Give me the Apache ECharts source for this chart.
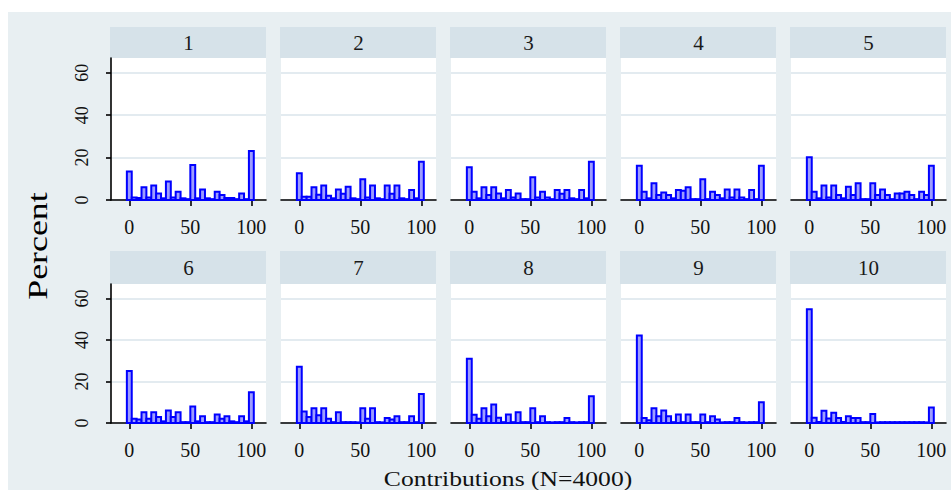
<!DOCTYPE html>
<html>
<head>
<meta charset="utf-8">
<script src="https://cdn.jsdelivr.net/npm/echarts@6/dist/echarts.min.js"></script>
<style>
  html, body { margin: 0; padding: 0; background: #ffffff; }
  #chart { width: 951px; height: 490px; }
</style>
</head>
<body>
<div id="chart"></div>
<script>
// Histogram bins: width 4, centred on 0, 4, 8, ..., 100
const binCenters = [0,4,8,12,16,20,24,28,32,36,40,44,48,52,56,60,64,68,72,76,80,84,88,92,96,100];
const binWidth = 4;

// Percent of contributions in each bin, one array per period
const period1  = [13.4,1.2,1.0,6.0,1.2,6.9,3.1,0.8,8.7,1.2,3.9,0.8,0.4,16.5,0.8,5.0,0.8,0.4,3.9,2.4,1.0,1.0,0.4,3.1,0.4,23.1];
const period2  = [12.6,1.5,1.5,6.0,2.5,6.8,2.0,0.8,5.0,3.0,6.3,0.8,0.4,9.8,1.2,6.8,0.8,0.4,6.8,3.0,6.9,0.8,0.4,4.7,0.8,18.1];
const period3  = [15.4,3.9,0.8,6.0,2.4,6.0,3.1,0.8,4.7,1.2,3.1,0.4,0.4,10.7,1.2,3.9,1.2,0.4,4.7,3.0,4.7,0.8,0.4,4.7,0.8,18.1];
const period4  = [16.2,3.9,0.8,7.9,2.4,3.5,2.4,0.8,4.7,4.4,6.0,0.4,0.4,9.8,0.4,3.9,2.4,0.8,5.0,1.2,5.0,1.2,0.4,4.7,0.4,16.2];
const period5  = [20.2,3.9,0.8,6.8,1.2,6.8,2.4,0.8,6.3,2.4,7.9,0.4,0.4,7.9,2.4,5.0,2.4,0.4,3.1,3.1,3.9,2.4,0.4,3.9,2.4,16.2];
const period6  = [25.1,2.0,1.7,5.2,2.0,5.2,2.9,0.8,6.0,2.9,5.2,0.4,0.4,7.9,0.8,3.3,0.4,0.4,4.1,2.0,3.3,0.8,0.4,3.3,0.8,14.8];
const period7  = [27.1,5.6,2.9,7.1,3.7,7.1,2.0,0.4,5.2,0.4,0.4,0.4,0.3,7.1,2.0,7.1,0.4,0.3,2.4,1.7,3.3,0.4,0.4,3.3,0.4,14.0];
const period8  = [31.0,4.0,2.0,7.1,3.3,8.9,2.5,0.4,4.1,0.4,5.2,0.4,0.4,7.1,0.4,3.3,0.4,0.3,0.4,0.4,2.4,0.4,0.3,0.4,0.4,12.9];
const period9  = [42.2,2.4,1.3,7.1,3.3,6.0,3.3,0.4,4.1,0.4,4.1,0.4,0.4,4.1,0.4,3.3,1.7,0.3,0.4,0.4,2.4,0.4,0.3,0.4,0.4,10.0];
const period10 = [54.8,2.5,0.5,5.9,2.2,5.0,2.4,0.5,3.3,2.4,2.4,0.4,0.4,4.3,0.3,0.4,0.4,0.4,0.4,0.4,0.4,0.4,0.4,0.4,0.3,7.5];
const periods = [period1, period2, period3, period4, period5, period6, period7, period8, period9, period10];
const periodLabels = ['1','2','3','4','5','6','7','8','9','10'];

// Axis ticks
const xTickValues = [0, 50, 100];
const yTickValues = [0, 20, 40, 60];
const xLabelText = ['0', '50', '100'];

const xTitle = 'Contributions (N=4000)';
const yTitle = 'Percent';

const serif = '"Liberation Serif", "DejaVu Serif", "Times New Roman", serif';
const regionColor = '#e8eff2';
const stripColor = '#d6e2e9';
const gridColor = '#e3ebf0';
const barStroke = '#0000ff';
const barFill = '#9d9dff';

// Panel layout (2 rows x 5 columns)
const colLeft0 = 111, colPitch = 170, plotWidth = 155;
const rows = [
  { stripTop: 27, stripH: 31, plotTop: 58, plotH: 142 },
  { stripTop: 251, stripH: 33, plotTop: 284, plotH: 139 }
];

const chart = echarts.init(document.getElementById('chart'), null, { renderer: 'svg' });

const grids = [], xAxes = [], yAxes = [], series = [];
const graphics = [
  // white margin around the graph region
  { type: 'rect', shape: { x: 0, y: 0, width: 951, height: 12 }, style: { fill: '#ffffff' }, silent: true },
  { type: 'rect', shape: { x: 0, y: 0, width: 8, height: 490 }, style: { fill: '#ffffff' }, silent: true }
];

periods.forEach((vals, i) => {
  const r = rows[Math.floor(i / 5)];
  const c = i % 5;
  const left = colLeft0 + colPitch * c;
  const firstCol = c === 0;

  grids.push({
    left: left, top: r.plotTop, width: plotWidth, height: r.plotH,
    show: true, backgroundColor: '#ffffff', borderWidth: 0, containLabel: false
  });

  xAxes.push({
    type: 'value', gridIndex: i, min: -15, max: 112,
    axisLine: { show: true, onZero: false, lineStyle: { color: '#000000', width: 1.6 } },
    axisTick: { show: true, customValues: xTickValues, length: 6, lineStyle: { color: '#000000', width: 1.6 } },
    axisLabel: {
      show: true, customValues: xTickValues, margin: 17,
      fontFamily: serif, fontSize: 20, color: '#111111',
      formatter: v => xLabelText[xTickValues.indexOf(v)]
    },
    splitLine: { show: false }
  });

  yAxes.push({
    type: 'value', gridIndex: i, min: 0, max: 67,
    axisLine: { show: firstCol, onZero: false, lineStyle: { color: '#000000', width: 1.6 } },
    axisTick: { show: firstCol, customValues: yTickValues, length: 5, lineStyle: { color: '#000000', width: 1.6 } },
    axisLabel: {
      show: firstCol, customValues: yTickValues, rotate: 90, margin: 20,
      fontFamily: serif, fontSize: 18, color: '#111111'
    },
    splitLine: { show: true, lineStyle: { color: gridColor, width: 2 } }
  });

  series.push({
    type: 'custom', xAxisIndex: i, yAxisIndex: i,
    data: binCenters.map((b, j) => [b, vals[j]]),
    renderItem: (params, api) => {
      const x = api.value(0), y = api.value(1);
      const p0 = api.coord([x - binWidth / 2, y]);
      const p1 = api.coord([x + binWidth / 2, 0]);
      return {
        type: 'rect',
        shape: { x: p0[0], y: p0[1], width: p1[0] - p0[0], height: p1[1] - p0[1] },
        style: { fill: barFill, stroke: barStroke, lineWidth: 2 }
      };
    },
    silent: true
  });

  // header strip with the period number
  graphics.push({
    type: 'rect',
    shape: { x: left - 1, y: r.stripTop, width: plotWidth + 1, height: r.stripH },
    style: { fill: stripColor }, silent: true
  });
  graphics.push({
    type: 'text',
    x: left + plotWidth / 2, y: r.stripTop + r.stripH / 2,
    style: {
      text: periodLabels[i], fontFamily: serif, fontSize: 21, fill: '#1a1a1a',
      align: 'center', verticalAlign: 'middle'
    }, silent: true
  });
});

// axis titles
graphics.push({
  type: 'text', x: 508, y: 479, scaleX: 1.22,
  style: { text: xTitle, fontFamily: serif, fontSize: 21, fill: '#111111', align: 'center', verticalAlign: 'middle' },
  silent: true
});
graphics.push({
  type: 'text', x: 37, y: 246, rotation: Math.PI / 2, scaleX: 1.28,
  style: { text: yTitle, fontFamily: serif, fontSize: 28, fill: '#000000', align: 'center', verticalAlign: 'middle' },
  silent: true
});

chart.setOption({
  backgroundColor: regionColor,
  animation: false,
  grid: grids,
  xAxis: xAxes,
  yAxis: yAxes,
  series: series,
  graphic: graphics
});
</script>
</body>
</html>
